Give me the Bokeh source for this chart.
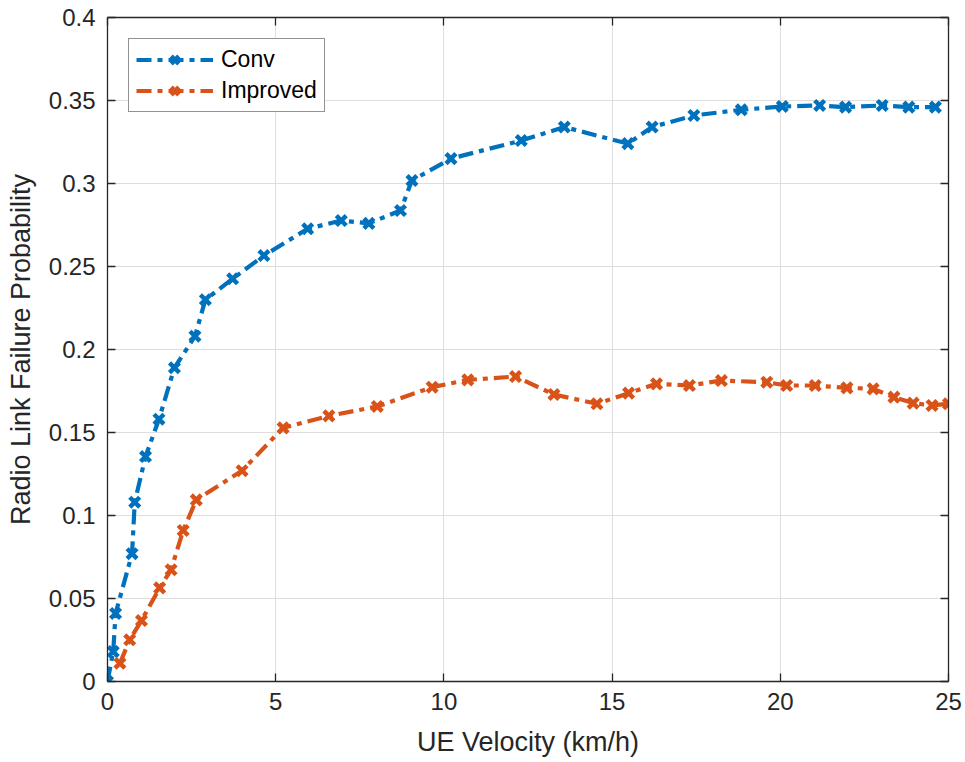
from bokeh.plotting import figure
from bokeh.models import LinearAxis, FixedTicker, Range1d, Legend, CustomLabelingPolicy
from bokeh.embed import file_html
from bokeh.resources import INLINE

# ---- data ----
conv_x = [0, 0.17, 0.24, 0.73, 0.81, 1.13, 1.53, 1.99, 2.6, 2.91, 3.72, 4.65, 5.95, 6.95, 7.77,
          8.71, 9.05, 10.21, 12.3, 13.58, 15.47, 16.19, 17.43, 18.84, 20.06, 21.17, 21.94,
          23.03, 23.82, 24.61]
conv_y = [0, 0.018, 0.041, 0.077, 0.108, 0.1355, 0.158, 0.189, 0.208, 0.230, 0.2426, 0.2566,
          0.2727, 0.2777, 0.276, 0.2837, 0.3018, 0.315, 0.3259, 0.334, 0.324, 0.334, 0.341,
          0.3444, 0.3464, 0.347, 0.346, 0.347, 0.346, 0.346]
imp_x = [0.37, 0.66, 1.01, 1.55, 1.89, 2.25, 2.64, 4.0, 5.22, 6.58, 8.02, 9.65, 10.71, 12.13,
         13.27, 14.55, 15.49, 16.32, 17.3, 18.25, 19.6, 20.19, 21.04, 21.98, 22.76, 23.38,
         23.95, 24.51, 25.0]
imp_y = [0.011, 0.0251, 0.0367, 0.0564, 0.0673, 0.091, 0.1094, 0.127, 0.1528, 0.160, 0.1657,
         0.1773, 0.1817, 0.1837, 0.1729, 0.1673, 0.1737, 0.1793, 0.1783, 0.1813, 0.1803,
         0.1783, 0.1783, 0.1769, 0.1763, 0.1713, 0.1677, 0.1663, 0.1673]

x_ticks = [0, 5, 10, 15, 20, 25]
x_tick_labels = ["0", "5", "10", "15", "20", "25"]
y_ticks = [0, 0.05, 0.1, 0.15, 0.2, 0.25, 0.3, 0.35, 0.4]
y_tick_labels = ["0", "0.05", "0.1", "0.15", "0.2", "0.25", "0.3", "0.35", "0.4"]

series_names = ["Conv", "Improved"]
colors = ["#0072BD", "#D95319"]

FONT = "Liberation Sans"
TXT = "#262626"

p = figure(width=965, height=762, output_backend="svg", toolbar_location=None,
           x_range=Range1d(0, 25), y_range=Range1d(0, 0.4),
           min_border_left=107, min_border_right=17, min_border_top=17, min_border_bottom=81,
           x_axis_label="UE Velocity (km/h)", y_axis_label="Radio Link Failure Probability")
p.background_fill_color = "white"
p.border_fill_color = "white"
p.outline_line_color = None

def style_axis(ax, ticks, labels, size="24px"):
    ax.ticker = FixedTicker(ticks=ticks)
    ax.major_label_overrides = {t: l for t, l in zip(ticks, labels)}
    ax.major_tick_in = 8
    ax.major_tick_out = 0
    ax.minor_tick_in = 0
    ax.minor_tick_out = 0
    ax.axis_line_color = TXT
    ax.axis_line_width = 1.3
    ax.major_tick_line_color = TXT
    ax.major_tick_line_width = 1.3
    ax.major_label_text_font = FONT
    ax.major_label_text_color = TXT
    ax.major_label_text_font_size = size
    ax.axis_label_text_font = FONT
    ax.axis_label_text_color = TXT
    ax.axis_label_text_font_size = "27px"
    ax.axis_label_text_font_style = "normal"

for ax in p.xaxis:
    style_axis(ax, x_ticks, x_tick_labels)
    ax.major_label_standoff = 11
    ax.axis_label_standoff = 14
for ax in p.yaxis:
    style_axis(ax, y_ticks, y_tick_labels)
    ax.major_label_standoff = 12
    ax.axis_label_standoff = 10

HIDE_JS = "const a = [...indices]; for (const i of a) indices.unset(i); return indices"
top = LinearAxis()
style_axis(top, x_ticks, x_tick_labels, size="1px")
top.major_label_policy = CustomLabelingPolicy(code=HIDE_JS)
top.major_label_standoff = 0
p.add_layout(top, "above")
right = LinearAxis()
style_axis(right, y_ticks, y_tick_labels, size="1px")
right.major_label_policy = CustomLabelingPolicy(code=HIDE_JS)
right.major_label_standoff = 0
p.add_layout(right, "right")

for g in (p.xgrid, p.ygrid):
    g.grid_line_color = "#dedede"
    g.grid_line_width = 1
p.xgrid.ticker = FixedTicker(ticks=x_ticks)
p.ygrid.ticker = FixedTicker(ticks=y_ticks)

items = []
for name, col, xs, ys in [(series_names[0], colors[0], conv_x, conv_y),
                          (series_names[1], colors[1], imp_x, imp_y)]:
    ln = p.line(xs, ys, line_color=col, line_width=4.2, line_dash="15 6 5 6")
    sc = p.scatter(xs, ys, marker="x", size=14, line_color=col, line_width=4.5)
    items.append((name, [ln, sc]))

legend = Legend(items=items, location="top_left")
legend.margin = 21
legend.padding = 7
legend.spacing = 4
legend.glyph_width = 77
legend.glyph_height = 27
legend.label_height = 27
legend.label_standoff = 8
legend.label_text_font = FONT
legend.label_text_font_size = "23px"
legend.label_text_color = "#000000"
legend.border_line_color = "#262626"
legend.border_line_width = 1
legend.background_fill_color = "white"
legend.background_fill_alpha = 1
p.add_layout(legend)

open("out.html", "w").write(file_html(p, INLINE))
